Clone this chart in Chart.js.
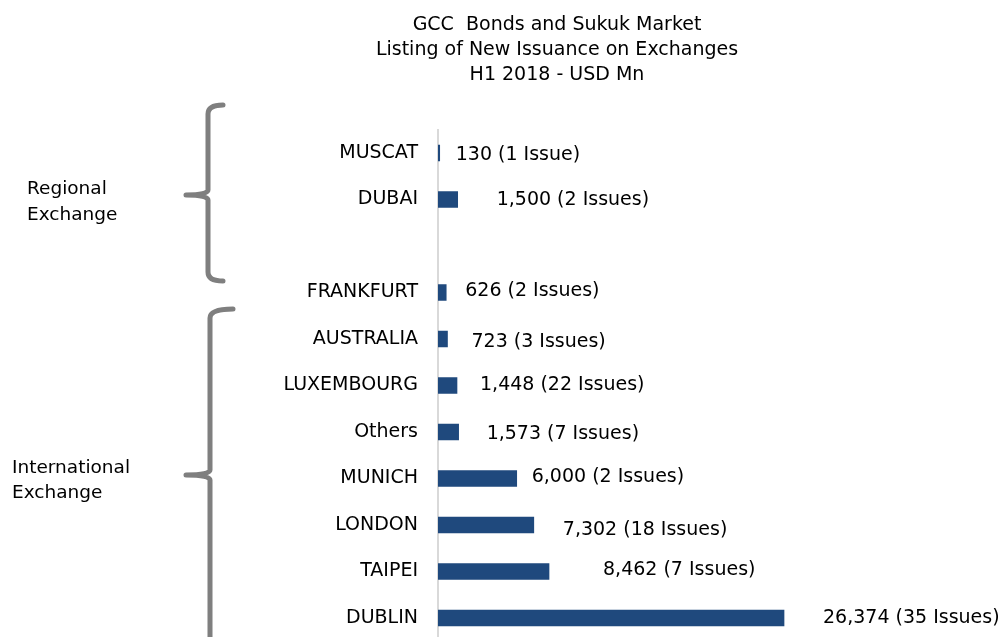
<!DOCTYPE html>
<html>
<head>
<meta charset="utf-8">
<title>GCC Bonds and Sukuk Market - Listing of New Issuance on Exchanges</title>
<script src="https://cdn.jsdelivr.net/npm/chart.js@4.4.1/dist/chart.umd.min.js"></script>
<style>
  html, body { margin: 0; padding: 0; background: #fff; overflow: hidden; }
  .chart-box { position: relative; width: 1001px; height: 660px; }
</style>
</head>
<body>
<div class="chart-box"><canvas id="issuanceChart"></canvas></div>
<script>
// data (blank row separates regional and international)
const exchanges = ["MUSCAT", "DUBAI", "", "FRANKFURT", "AUSTRALIA", "LUXEMBOURG", "Others", "MUNICH", "LONDON", "TAIPEI", "DUBLIN"];
const amounts = [130, 1500, null, 626, 723, 1448, 1573, 6000, 7302, 8462, 26374];
const issueCounts = [1, 2, null, 2, 3, 22, 7, 2, 18, 7, 35];
const titleLines = ["GCC  Bonds and Sukuk Market", "Listing of New Issuance on Exchanges", "H1 2018 - USD Mn"];

// the labels in the original sit at slightly different spots, [dx, dy] from the bar end
const labelNudge = [[16, 2], [39, 1], [0, 0], [19, -1], [24, 3], [23, 0], [28, 2], [15, -1], [29, 5], [54, -1], [39, 0]];

const FONT = "'DejaVu Sans', Verdana, sans-serif";

function drawBrace(ctx, x, top, mid, bottom, hook, tip) {
  const r = 9;
  ctx.beginPath();
  ctx.moveTo(x + hook, top);
  ctx.quadraticCurveTo(x, top, x, top + r);
  ctx.lineTo(x, mid - 5);
  ctx.quadraticCurveTo(x, mid, x - tip, mid);
  ctx.moveTo(x - tip, mid);
  ctx.quadraticCurveTo(x, mid, x, mid + 5);
  ctx.lineTo(x, bottom - r);
  ctx.quadraticCurveTo(x, bottom, x + hook, bottom);
  ctx.stroke();
}

const decorations = {
  id: "decorations",
  afterDatasetsDraw(chart) {
    const ctx = chart.ctx;
    const meta = chart.getDatasetMeta(0);
    ctx.save();

    // title
    ctx.fillStyle = "#000";
    ctx.font = "19px " + FONT;
    ctx.textAlign = "center";
    ctx.textBaseline = "middle";
    titleLines.forEach(function (line, i) {
      ctx.fillText(line, 557, 25 + i * 25);
    });

    // value labels
    ctx.textAlign = "left";
    meta.data.forEach(function (bar, i) {
      if (amounts[i] == null) return;
      const n = issueCounts[i];
      const text = amounts[i].toLocaleString("en-US") + " (" + n + (n === 1 ? " Issue)" : " Issues)");
      ctx.fillText(text, bar.x + labelNudge[i][0], bar.y + labelNudge[i][1]);
    });

    // group braces
    ctx.strokeStyle = "#7f7f7f";
    ctx.lineWidth = 5;
    ctx.lineCap = "round";
    ctx.lineJoin = "round";
    drawBrace(ctx, 208, 105, 195, 281, 15, 22);
    drawBrace(ctx, 210, 309, 475, 720, 23, 24);

    ctx.font = "18.5px " + FONT;
    ctx.fillText("Regional", 27, 189);
    ctx.fillText("Exchange", 27, 215);
    ctx.fillText("International", 12, 468);
    ctx.fillText("Exchange", 12, 493);
    ctx.restore();
  }
};

const ctx = document.getElementById("issuanceChart").getContext("2d");

new Chart(ctx, {
  type: "bar",
  data: {
    labels: exchanges,
    datasets: [
      {
        label: "USD Mn",
        data: amounts,
        backgroundColor: "#1F497D",
        barThickness: 16,
      },
    ],
  },
  options: {
    indexAxis: "y",
    responsive: true,
    maintainAspectRatio: false,
    animation: false,
    layout: {
      padding: { top: 129.75, bottom: 18.75, left: 0, right: 169.4 },
    },
    scales: {
      x: {
        display: false,
        min: 0,
        max: 30000,
      },
      y: {
        afterFit: function (scale) {
          scale.width = 438;
          // keep the label overhang from pushing the plot area up
          scale.paddingTop = 0;
          scale.paddingBottom = 0;
        },
        grid: { display: false, drawTicks: false },
        border: { display: true, color: "#d9d9d9", width: 2 },
        ticks: {
          autoSkip: false,
          padding: 20,
          color: "#000",
          font: { family: FONT, size: 19 },
        },
      },
    },
    plugins: {
      legend: { display: false },
      tooltip: { enabled: false },
    },
  },
  plugins: [decorations],
});
</script>
</body>
</html>
